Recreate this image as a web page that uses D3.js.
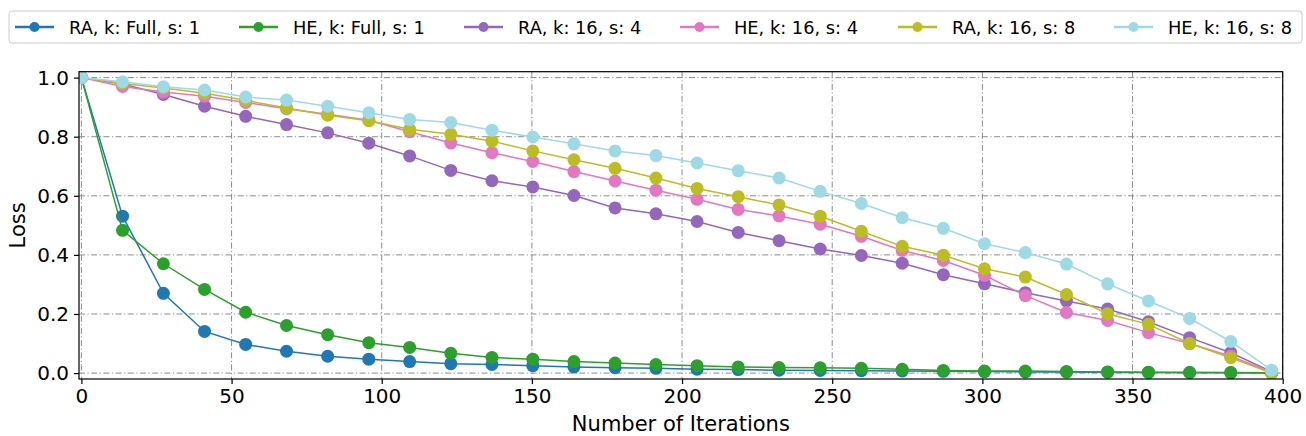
<!DOCTYPE html>
<html>
<head>
<meta charset="utf-8">
<script src="https://cdn.jsdelivr.net/npm/d3@7"></script>
<style>
  html, body { margin: 0; padding: 0; background: #fff; }
  svg { display: block; font-family: "DejaVu Sans", sans-serif; }
</style>
</head>
<body>
<svg id="chart" width="1306" height="436"></svg>
<script>
const iterations = [0, 13.7, 27.3, 41, 54.7, 68.3, 82, 95.7, 109.3, 123, 136.7, 150.3, 164, 177.7, 191.3, 205, 218.7, 232.3, 246, 259.7, 273.3, 287, 300.7, 314.3, 328, 341.7, 355.3, 369, 382.7, 396.3];

const raFull = [1.0, 0.531, 0.270, 0.141, 0.097, 0.074, 0.057, 0.047, 0.039, 0.032, 0.029, 0.025, 0.021, 0.018, 0.016, 0.013, 0.012, 0.010, 0.009, 0.008, 0.007, 0.006, 0.005, 0.004, 0.004, 0.003, 0.002, 0.002, 0.001, 0.0];
const heFull = [1.0, 0.483, 0.370, 0.283, 0.206, 0.161, 0.130, 0.103, 0.087, 0.067, 0.053, 0.047, 0.039, 0.034, 0.029, 0.025, 0.021, 0.019, 0.018, 0.016, 0.013, 0.009, 0.007, 0.007, 0.005, 0.004, 0.003, 0.002, 0.002, 0.001];
const ra16s4 = [1.0, 0.978, 0.943, 0.903, 0.869, 0.841, 0.813, 0.778, 0.735, 0.686, 0.651, 0.630, 0.601, 0.559, 0.539, 0.513, 0.476, 0.448, 0.420, 0.398, 0.372, 0.333, 0.302, 0.272, 0.244, 0.217, 0.174, 0.120, 0.069, 0.005];
const he16s4 = [1.0, 0.970, 0.951, 0.937, 0.916, 0.895, 0.876, 0.856, 0.817, 0.779, 0.746, 0.716, 0.682, 0.650, 0.619, 0.588, 0.554, 0.532, 0.504, 0.463, 0.415, 0.381, 0.331, 0.262, 0.205, 0.178, 0.137, 0.100, 0.057, 0.003];
const ra16s8 = [1.0, 0.980, 0.965, 0.947, 0.923, 0.897, 0.873, 0.854, 0.825, 0.808, 0.785, 0.752, 0.722, 0.693, 0.660, 0.625, 0.597, 0.569, 0.531, 0.480, 0.429, 0.399, 0.353, 0.325, 0.266, 0.201, 0.165, 0.100, 0.052, 0.0];
const he16s8 = [1.0, 0.986, 0.969, 0.958, 0.934, 0.924, 0.903, 0.881, 0.858, 0.848, 0.822, 0.799, 0.776, 0.752, 0.736, 0.711, 0.685, 0.660, 0.615, 0.574, 0.526, 0.490, 0.438, 0.408, 0.369, 0.302, 0.244, 0.185, 0.107, 0.010];

const seriesNames = ["RA, k: Full, s: 1", "HE, k: Full, s: 1", "RA, k: 16, s: 4", "HE, k: 16, s: 4", "RA, k: 16, s: 8", "HE, k: 16, s: 8"];
const seriesValues = [raFull, heFull, ra16s4, he16s4, ra16s8, he16s8];
const seriesColors = ["#1f77b4", "#2ca02c", "#9467bd", "#e377c2", "#bcbd22", "#9edae5"];

const xTicks = [0, 50, 100, 150, 200, 250, 300, 350, 400];
const yTicks = [0.0, 0.2, 0.4, 0.6, 0.8, 1.0];
const xLabel = "Number of Iterations";
const yLabel = "Loss";

const svg = d3.select("#chart");
const plot = { left: 79, right: 1282.7, top: 71.7, bottom: 379 };

const x = d3.scaleLinear().domain([-0.8, 400]).range([plot.left, plot.right]);
const y = d3.scaleLinear().domain([-0.02, 1.02]).range([plot.bottom, plot.top]);

svg.append("defs").append("clipPath").attr("id", "clip")
  .append("rect").attr("x", plot.left).attr("y", plot.top)
  .attr("width", plot.right - plot.left).attr("height", plot.bottom - plot.top);

// grid
const grid = svg.append("g");
grid.selectAll(".gx").data(xTicks).enter().append("line")
  .attr("x1", d => x(d)).attr("x2", d => x(d))
  .attr("y1", plot.top).attr("y2", plot.bottom)
  .attr("stroke", "#8c8c8c").attr("stroke-width", 1)
  .attr("stroke-dasharray", "6,2.5,1.2,2.5");
grid.selectAll(".gy").data(yTicks).enter().append("line")
  .attr("y1", d => y(d)).attr("y2", d => y(d))
  .attr("x1", plot.left).attr("x2", plot.right)
  .attr("stroke", "#8c8c8c").attr("stroke-width", 1)
  .attr("stroke-dasharray", "6,2.5,1.2,2.5");

// series
const line = d3.line().x((d, i) => x(iterations[i])).y(d => y(d));
const data = seriesNames.map((n, k) => ({ name: n, values: seriesValues[k], color: seriesColors[k] }));
const plotG = svg.append("g").attr("clip-path", "url(#clip)");
data.forEach(s => {
  const g = plotG.append("g");
  g.append("path").attr("d", line(s.values))
    .attr("fill", "none").attr("stroke", s.color).attr("stroke-width", 1.5);
  g.selectAll("circle").data(s.values).enter().append("circle")
    .attr("cx", (d, i) => x(iterations[i])).attr("cy", d => y(d))
    .attr("r", 6.5).attr("fill", s.color);
});

// axes
const xAxis = d3.axisBottom(x).tickValues(xTicks).tickFormat(d3.format("d")).tickSize(5).tickPadding(5);
const yAxis = d3.axisLeft(y).tickValues(yTicks).tickFormat(d3.format(".1f")).tickSize(5).tickPadding(5);
const gx = svg.append("g").attr("transform", `translate(0,${plot.bottom})`).call(xAxis);
const gy = svg.append("g").attr("transform", `translate(${plot.left},0)`).call(yAxis);
[gx, gy].forEach(g => {
  g.select(".domain").remove();
  g.selectAll("text").attr("font-size", 20).attr("fill", "#000").attr("font-family", "DejaVu Sans");
  g.selectAll("line").attr("stroke", "#000").attr("stroke-width", 1.2);
});

// frame
svg.append("rect").attr("x", plot.left).attr("y", plot.top)
  .attr("width", plot.right - plot.left).attr("height", plot.bottom - plot.top)
  .attr("fill", "none").attr("stroke", "#000").attr("stroke-width", 1.2);

// labels
svg.append("text").attr("x", (plot.left + plot.right) / 2).attr("y", 430.5)
  .attr("text-anchor", "middle").attr("font-size", 21).text(xLabel);
svg.append("text").attr("transform", `translate(25,${(plot.top + plot.bottom) / 2}) rotate(-90)`)
  .attr("text-anchor", "middle").attr("font-size", 21).text(yLabel);

// legend
const legend = svg.append("g");
legend.append("rect").attr("x", 9).attr("y", 11).attr("width", 1293).attr("height", 32)
  .attr("rx", 3).attr("fill", "#fff").attr("fill-opacity", 0.8)
  .attr("stroke", "#cccccc").attr("stroke-width", 1);
const legendX = [15, 239, 464, 680, 898, 1114];
data.forEach((s, k) => {
  const lg = legend.append("g").attr("transform", `translate(${legendX[k]},27)`);
  lg.append("line").attr("x1", 0).attr("x2", 39).attr("y1", 0).attr("y2", 0)
    .attr("stroke", s.color).attr("stroke-width", 2.5);
  lg.append("circle").attr("cx", 19.5).attr("cy", 0).attr("r", 5).attr("fill", s.color);
  lg.append("text").attr("x", 54).attr("y", 6.5).attr("font-size", 17.8).attr("fill", "#000").text(s.name);
});
</script>
</body>
</html>
